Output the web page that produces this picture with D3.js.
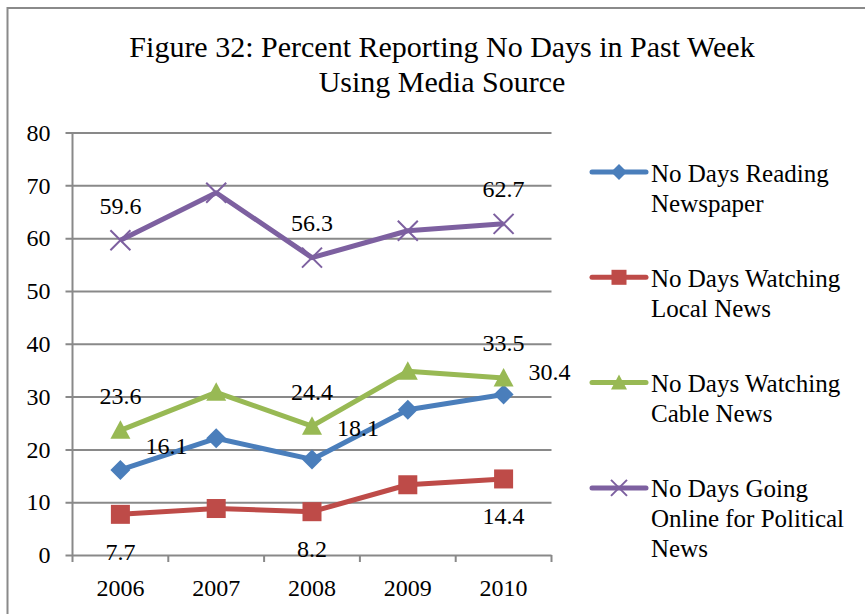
<!DOCTYPE html>
<html>
<head>
<meta charset="utf-8">
<script src="https://cdn.jsdelivr.net/npm/d3@7/dist/d3.min.js"></script>
<style>
  html, body { margin: 0; padding: 0; background: #fff; }
  svg { display: block; }
</style>
</head>
<body>
<svg id="chart" width="865" height="614"></svg>
<script>
// Survey years along the category axis
const years = ["2006", "2007", "2008", "2009", "2010"];

// Percent reporting no days of use in the past week, by media source
const newspaper = [16.1, 22.1, 18.1, 27.5, 30.4];
const localNews = [7.7, 8.8, 8.2, 13.3, 14.4];
const cableNews = [23.6, 30.8, 24.4, 34.8, 33.5];
const onlinePolitical = [59.6, 68.6, 56.3, 61.4, 62.7];

// Value axis ticks
const yTicks = [0, 10, 20, 30, 40, 50, 60, 70, 80];

// Series names as they appear in the legend (one entry per wrapped line)
const seriesNames = [
  ["No Days Reading", "Newspaper"],
  ["No Days Watching", "Local News"],
  ["No Days Watching", "Cable News"],
  ["No Days Going", "Online for Political", "News"]
];

// Only the 2006, 2008 and 2010 points carry value labels
const labelledYears = ["2006", "2008", "2010"];

const titleLines = ["Figure 32: Percent Reporting No Days in Past Week", "Using Media Source"];

// ---- styling ----
const FONT = "'Liberation Serif', 'Times New Roman', Tinos, 'DejaVu Serif', serif";
const colors = ["#4A7EBB", "#BE4B48", "#98B954", "#7D60A0"];
const markers = ["diamond", "square", "triangle", "x"];
const gridColor = "#898989";

const series = [newspaper, localNews, cableNews, onlinePolitical].map((vals, i) => ({
  name: seriesNames[i],
  color: colors[i],
  marker: markers[i],
  values: years.map((y, j) => ({ year: y, value: vals[j] }))
}));

// Where each series' value labels sit relative to their point
function labelOffset(seriesIndex, year) {
  if (seriesIndex === 0) {
    const dy = { "2006": -24, "2008": -32, "2010": -23 }[year];
    return [46, dy];
  }
  if (seriesIndex === 1) return [0, 37];
  return [0, -35];
}

const svg = d3.select("#chart").attr("font-family", FONT).style("font-family", FONT);

function serif(sel, size) {
  return sel.attr("font-family", FONT).style("font-family", FONT).style("font-size", size + "px").attr("fill", "#000");
}

// Chart frame
svg.append("path")
  .attr("d", "M7.5,620 L7.5,8 L870,8")
  .attr("fill", "none")
  .attr("stroke", "#8a8a8a")
  .attr("stroke-width", 2);

// Title
svg.append("g").selectAll("text")
  .data(titleLines)
  .join("text")
  .attr("x", 442)
  .attr("y", (d, i) => 57 + i * 35)
  .attr("text-anchor", "middle")
  .call(serif, 30)
  .text(d => d);

const plot = { left: 72.5, right: 551.5, top: 132.5, bottom: 555 };

const x = d3.scaleBand().domain(years).range([plot.left, plot.right]).padding(0);
const cx = d => x(d) + x.bandwidth() / 2;
const y = d3.scaleLinear().domain([0, 80]).range([plot.bottom, plot.top]);

// Horizontal gridlines and the value axis
const yAxis = d3.axisLeft(y).tickValues(yTicks).tickSize(plot.right - plot.left + 7).tickPadding(15).tickFormat(d3.format("d"));
const gy = svg.append("g")
  .attr("transform", `translate(${plot.right},0)`)
  .call(yAxis);
gy.attr("font-family", FONT).attr("font-size", null);
gy.select(".domain").remove();
gy.selectAll(".tick line").attr("stroke", gridColor).attr("stroke-width", 2);
gy.selectAll(".tick text").call(serif, 24).attr("dy", "0.32em");

// Vertical axis line
svg.append("line")
  .attr("x1", plot.left).attr("x2", plot.left)
  .attr("y1", plot.top).attr("y2", plot.bottom)
  .attr("stroke", gridColor).attr("stroke-width", 2);

// Category axis: labels centred in each band, tick marks between bands
const xAxis = d3.axisBottom(x).tickSize(0).tickPadding(24);
const gx = svg.append("g")
  .attr("transform", `translate(0,${plot.bottom})`)
  .call(xAxis);
gx.attr("font-family", FONT).attr("font-size", null);
gx.select(".domain").remove();
gx.selectAll(".tick text").call(serif, 24);

const boundaries = years.map(d => x(d)).concat([plot.right]);
svg.append("g").selectAll("line")
  .data(boundaries)
  .join("line")
  .attr("x1", d => d).attr("x2", d => d)
  .attr("y1", plot.bottom).attr("y2", plot.bottom + 7)
  .attr("stroke", gridColor).attr("stroke-width", 2);

// Marker drawing
function drawMarker(sel, type, color, size) {
  const h = size / 2;
  if (type === "diamond") {
    sel.append("path").attr("d", `M0,${-h} L${h},0 L0,${h} L${-h},0 Z`).attr("fill", color);
  } else if (type === "square") {
    sel.append("rect").attr("x", -h + 0.5).attr("y", -h + 0.5).attr("width", size - 1).attr("height", size - 1).attr("fill", color);
  } else if (type === "triangle") {
    sel.append("path").attr("d", `M0,${-h} L${h},${h * 0.85} L${-h},${h * 0.85} Z`).attr("fill", color);
  } else if (type === "x") {
    sel.append("path").attr("d", `M${-h},${-h} L${h},${h} M${-h},${h} L${h},${-h}`)
      .attr("stroke", color).attr("stroke-width", 2).attr("fill", "none");
  }
}

const line = d3.line().x(d => cx(d.year)).y(d => y(d.value));

// Series lines and markers
series.forEach(s => {
  const g = svg.append("g");
  g.append("path")
    .datum(s.values)
    .attr("d", line)
    .attr("fill", "none")
    .attr("stroke", s.color)
    .attr("stroke-width", 5)
    .attr("stroke-linejoin", "round");
  s.values.forEach(p => {
    const m = g.append("g").attr("transform", `translate(${cx(p.year)},${y(p.value)})`);
    drawMarker(m, s.marker, s.color, 20);
  });
});

// Value labels
series.forEach((s, i) => {
  svg.append("g").selectAll("text")
    .data(s.values.filter(p => labelledYears.includes(p.year)))
    .join("text")
    .attr("x", p => cx(p.year) + labelOffset(i, p.year)[0])
    .attr("y", p => y(p.value) + labelOffset(i, p.year)[1])
    .attr("dy", "0.35em")
    .attr("text-anchor", "middle")
    .call(serif, 24)
    .text(p => d3.format(".1f")(p.value));
});

// Legend
const legend = svg.append("g");
const legendTop = 172, legendStep = 105.3;
series.forEach((s, i) => {
  const ly = legendTop + i * legendStep;
  const g = legend.append("g").attr("transform", `translate(0,${ly})`);
  g.append("line")
    .attr("x1", 592).attr("x2", 646).attr("y1", 0).attr("y2", 0)
    .attr("stroke", s.color).attr("stroke-width", 5).attr("stroke-linecap", "round");
  const m = g.append("g").attr("transform", "translate(619,0)");
  drawMarker(m, s.marker, s.color, 16);
  g.selectAll("text")
    .data(s.name)
    .join("text")
    .attr("x", 651)
    .attr("y", (d, k) => 9.5 + k * 30)
    .call(serif, 25)
    .text(d => d);
});
</script>
</body>
</html>
